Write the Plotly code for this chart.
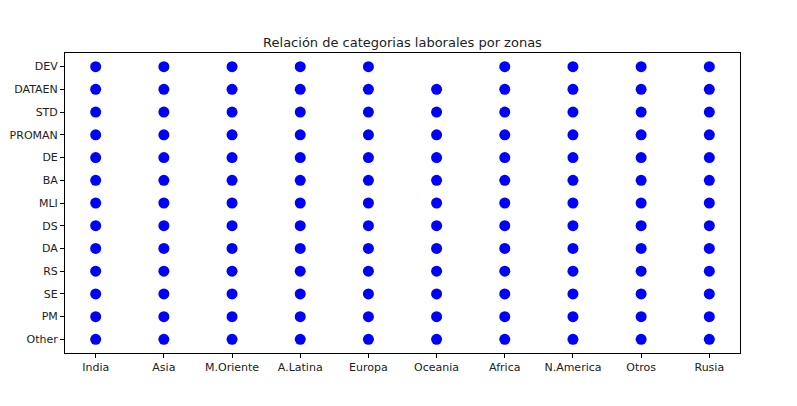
import plotly.graph_objects as go

zones = ["India", "Asia", "M.Oriente", "A.Latina", "Europa",
         "Oceania", "Africa", "N.America", "Otros", "Rusia"]
# roles from bottom to top
roles = ["Other", "PM", "SE", "RS", "DA", "DS", "MLI", "BA", "DE",
         "PROMAN", "STD", "DATAEN", "DEV"]
# roles observed per zone (Oceania lacks DEV)
missing = {"Oceania": ["DEV"]}

xs, ys = [], []
for z in zones:
    for r in roles:
        if r in missing.get(z, []):
            continue
        xs.append(z)
        ys.append(r)

fig = go.Figure(go.Scatter(
    x=xs, y=ys, mode="markers",
    marker=dict(color="#0000ff", size=11, line=dict(width=0)),
    hoverinfo="x+y",
))

axis_common = dict(
    showline=True, linecolor="black", linewidth=1, mirror=True,
    ticks="outside", ticklen=4, tickcolor="black",
    showgrid=False, zeroline=False, automargin=False,
    tickfont=dict(family="DejaVu Sans", size=11, color="#222"),
)

fig.update_layout(
    width=797, height=406,
    margin=dict(l=65, r=57, t=53, b=53),
    paper_bgcolor="white", plot_bgcolor="white",
    title=dict(text="Relación de categorias laborales por zonas",
               x=0.5, xanchor="center", xref="paper",
               y=1 - 42 / 406, yanchor="middle",
               font=dict(family="DejaVu Sans", size=13, color="#222")),
    showlegend=False,
    xaxis=dict(type="category", categoryorder="array", categoryarray=zones,
               range=[-0.45, len(zones) - 1 + 0.45], **axis_common),
    yaxis=dict(type="category", categoryorder="array", categoryarray=roles,
               range=[-0.6, len(roles) - 1 + 0.6], **axis_common),
)

fig.write_html("out.html")
